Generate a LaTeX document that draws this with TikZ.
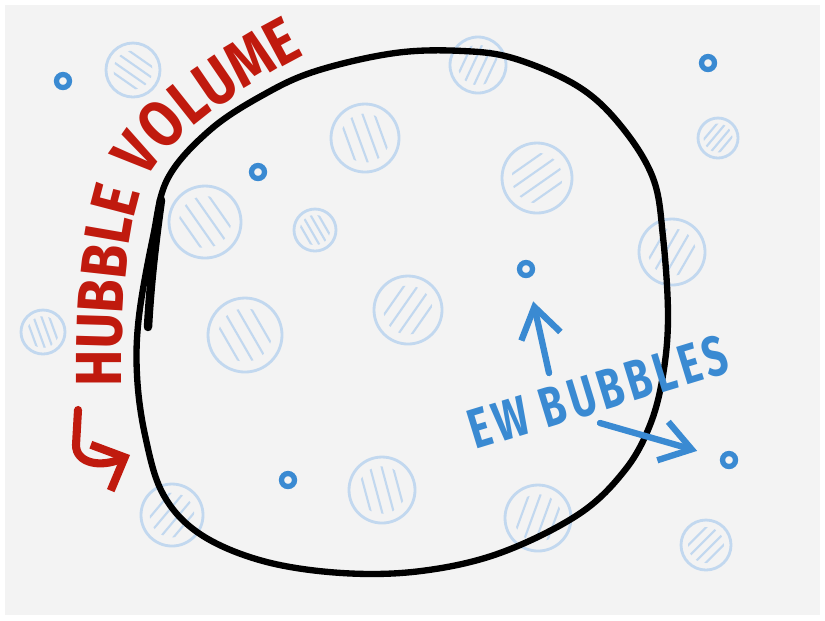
\documentclass[tikz,border=0pt]{standalone}
\usepackage{fontspec}
\usetikzlibrary{arrows.meta, decorations.text}
\newfontfamily\rotulo[FakeStretch=0.84]{Fira Sans}
\newfontfamily\rotuloazul[FakeStretch=0.72, LetterSpace=8]{Fira Sans}
\definecolor{rojo}{HTML}{C01A0E}
\definecolor{azul}{HTML}{3A8AD2}
\definecolor{celeste}{HTML}{C2D8EF}
\definecolor{fondo}{HTML}{F3F3F3}

\newcommand{\burbuja}[4]{%
  \begin{scope}[shift={(#1,#2)}]
    \draw[celeste, line width=0.8pt] (0,0) circle[radius=#3];
    \begin{scope}[rotate=#4]
      \clip (0,0) circle[radius=0.72*#3];
      \foreach \k in {-0.5,-0.17,0.17,0.5}
        \draw[celeste, line width=0.6pt] (\k*#3,-#3) -- (\k*#3,#3);
    \end{scope}
  \end{scope}}

\begin{document}
\begin{tikzpicture}[x=0.01cm, y=-0.01cm,
  anillo/.style={circle, draw=azul, line width=1.5pt, inner sep=0pt, minimum size=0.13cm},
  flecha/.style={azul, line width=1.8pt, line cap=round, -{Straight Barb[length=3mm, width=4mm]}, shorten >=0.24cm},
  trazo/.style={line width=1.8pt, line cap=round}]
  \useasboundingbox (0,0) rectangle (825,620);
  \fill[white] (0,0) rectangle (825,620);
  \fill[fondo] (5,5) rectangle (820,615);

  \burbuja{133}{70}{27}{55}
  \burbuja{478}{65}{28}{-25}
  \burbuja{365}{138}{34}{20}
  \burbuja{537}{178}{35}{-55}
  \burbuja{718}{138}{20}{-40}
  \burbuja{205}{222}{36}{35}
  \burbuja{315}{230}{21}{30}
  \burbuja{672}{252}{33}{-30}
  \burbuja{408}{310}{34}{-35}
  \burbuja{245}{335}{37}{30}
  \burbuja{43}{332}{22}{20}
  \burbuja{172}{515}{31}{-40}
  \burbuja{382}{490}{33}{15}
  \burbuja{538}{518}{33}{-20}
  \burbuja{706}{545}{25}{-45}

  % volumen de Hubble
  \draw[trazo] plot[smooth cycle, tension=0.6] coordinates {(395,53) (463,51) (516,59) (579,87)
    (621,126) (653,178) (663,237) (668,316) (663,375) (650,425) (625,470) (579,514) (500,553)
    (421,571) (342,573) (263,561) (200,534) (163,494) (145,435) (137,375) (139,316) (153,237)
    (168,178) (210,130) (263,95) (316,71)};
  \draw[trazo, line width=2.4pt] (161,200) .. controls (154,250) and (150,290) .. (148,327);

  \path[decorate, decoration={text along path, text align=left,
      text={|\rotulo\bfseries\fontsize{18.5}{20}\selectfont\color{rojo}|HUBBLE VOLUME}}]
    (122,386) .. controls (121,310) and (126,240) .. (140,195)
    .. controls (152,158) and (200,105) .. (330,42);
  \draw[rojo, line width=2.3pt, line cap=round, -{Straight Barb[length=2.6mm, width=5mm]}]
    (78,410) -- (76,445) .. controls (76,463) and (100,468) .. (130,455);

  \node[anillo] (r1) at (63,81) {};
  \node[anillo] (r2) at (258,172) {};
  \node[anillo] (r3) at (526,269) {};
  \node[anillo] (r4) at (708,63) {};
  \node[anillo] (r5) at (729,460) {};
  \node[anillo] (r6) at (288,480) {};

  \node[rotate=17, text=azul, font=\rotuloazul\bfseries\fontsize{16}{17}\selectfont] (ew) at (598,392) {EW BUBBLES};
  \coordinate (c1) at (549,373);
  \coordinate (c2) at (600,423);
  \draw[flecha] (c1) -- (r3);
  \draw[flecha] (c2) -- (r5);
\end{tikzpicture}
\end{document}
